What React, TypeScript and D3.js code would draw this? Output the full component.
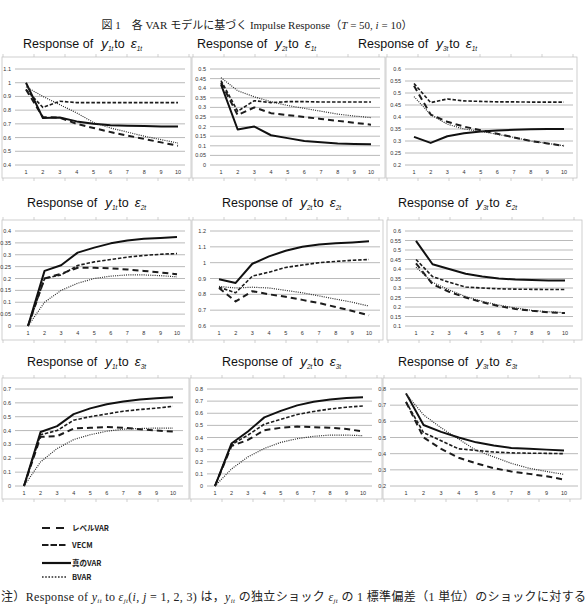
import * as d3 from 'd3';

// horizon (periods after the shock)
const periods = ['1', '2', '3', '4', '5', '6', '7', '8', '9', '10'];

// panels are row-major: rows = shock ε1t..ε3t, columns = response y1t..y3t
const respSubs = ['1t', '2t', '3t'];
const shockSubs = ['1t', '2t', '3t'];

const yMin = [0.4, 0, 0.2, 0, 0.6, 0.1, 0, 0, 0.2];
const yMax = [1.1, 0.5, 0.6, 0.4, 1.2, 0.6, 0.7, 0.8, 0.8];
const yStep = [0.1, 0.05, 0.05, 0.05, 0.1, 0.05, 0.1, 0.1, 0.1];

const levelVAR = [
  [0.95, 0.75, 0.745, 0.7, 0.67, 0.64, 0.615, 0.59, 0.565, 0.54],
  [0.43, 0.26, 0.3, 0.27, 0.26, 0.25, 0.24, 0.23, 0.22, 0.21],
  [0.53, 0.41, 0.38, 0.36, 0.345, 0.33, 0.315, 0.3, 0.29, 0.28],
  [0, 0.2, 0.22, 0.245, 0.245, 0.243, 0.238, 0.232, 0.225, 0.218],
  [0.84, 0.755, 0.82, 0.8, 0.785, 0.765, 0.745, 0.72, 0.695, 0.667],
  [0.43, 0.32, 0.28, 0.25, 0.225, 0.205, 0.19, 0.18, 0.172, 0.168],
  [0, 0.355, 0.36, 0.415, 0.42, 0.425, 0.42, 0.41, 0.4, 0.393],
  [0, 0.33, 0.38, 0.46, 0.48, 0.49, 0.485, 0.48, 0.47, 0.45],
  [0.72, 0.5, 0.43, 0.375, 0.34, 0.31, 0.29, 0.275, 0.26, 0.24],
];

const vecm = [
  [0.95, 0.82, 0.865, 0.855, 0.855, 0.855, 0.855, 0.855, 0.855, 0.855],
  [0.44, 0.28, 0.335, 0.325, 0.33, 0.33, 0.328, 0.328, 0.328, 0.328],
  [0.54, 0.46, 0.475, 0.467, 0.465, 0.463, 0.463, 0.462, 0.462, 0.462],
  [0, 0.2, 0.215, 0.255, 0.27, 0.28, 0.29, 0.297, 0.302, 0.305],
  [0.845, 0.81, 0.915, 0.94, 0.97, 0.985, 1.0, 1.008, 1.015, 1.02],
  [0.45, 0.36, 0.33, 0.305, 0.3, 0.296, 0.294, 0.293, 0.292, 0.292],
  [0, 0.37, 0.4, 0.475, 0.5, 0.52, 0.54, 0.552, 0.562, 0.575],
  [0, 0.34, 0.42, 0.51, 0.55, 0.59, 0.615, 0.635, 0.65, 0.66],
  [0.72, 0.53, 0.48, 0.43, 0.42, 0.41, 0.405, 0.403, 0.402, 0.4],
];

const trueVAR = [
  [1.0, 0.742, 0.747, 0.718, 0.7, 0.69, 0.686, 0.684, 0.68, 0.68],
  [0.42, 0.185, 0.2, 0.155, 0.14, 0.125, 0.118, 0.112, 0.11, 0.108],
  [0.317, 0.292, 0.32, 0.332, 0.34, 0.344, 0.347, 0.349, 0.35, 0.35],
  [0, 0.232, 0.256, 0.309, 0.33, 0.348, 0.36, 0.367, 0.371, 0.375],
  [0.895, 0.872, 0.993, 1.04, 1.075, 1.1, 1.115, 1.123, 1.128, 1.135],
  [0.548, 0.425, 0.4, 0.375, 0.36, 0.35, 0.345, 0.342, 0.34, 0.339],
  [0, 0.39, 0.432, 0.519, 0.56, 0.59, 0.61, 0.625, 0.633, 0.64],
  [0, 0.35, 0.45, 0.566, 0.62, 0.665, 0.695, 0.713, 0.725, 0.731],
  [0.773, 0.577, 0.535, 0.5, 0.47, 0.45, 0.435, 0.43, 0.425, 0.42],
];

const bvar = [
  [0.97, 0.9, 0.84, 0.78, 0.71, 0.67, 0.64, 0.61, 0.585, 0.56],
  [0.455, 0.387, 0.355, 0.33, 0.31, 0.295, 0.28, 0.265, 0.255, 0.247],
  [0.485, 0.41, 0.37, 0.35, 0.34, 0.328, 0.315, 0.3, 0.29, 0.28],
  [0, 0.1, 0.15, 0.18, 0.2, 0.21, 0.215, 0.215, 0.212, 0.207],
  [0.85, 0.84, 0.845, 0.84, 0.825, 0.81, 0.79, 0.77, 0.75, 0.726],
  [0.41, 0.33, 0.29, 0.255, 0.23, 0.21, 0.195, 0.182, 0.175, 0.17],
  [0, 0.174, 0.27, 0.335, 0.37, 0.395, 0.41, 0.415, 0.418, 0.418],
  [0, 0.14, 0.24, 0.31, 0.36, 0.39, 0.41, 0.42, 0.42, 0.415],
  [0.77, 0.64, 0.56, 0.49, 0.42, 0.38, 0.34, 0.31, 0.29, 0.272],
];

const seriesNames = ['レベルVAR', 'VECM', '真のVAR', 'BVAR'];
const seriesData = [levelVAR, vecm, trueVAR, bvar];

const lineStyles = [
  { width: 2, dash: '6 4', color: '#1c1c1c' },
  { width: 1.6, dash: '3.5 1.8', color: '#1c1c1c' },
  { width: 2, dash: undefined, color: '#111' },
  { width: 1.2, dash: '1 1.2', color: '#2a2a2a' },
];

// layout for the 3x3 grid of panels
const rowGridY = [[69, 165], [231, 326], [389, 486]];
const rowBoxY = [[57, 178], [220, 340], [378, 499]];
const rowTitleY = [48, 207, 366];
const titleX = [[23, 197, 358], [27, 222, 398], [27, 222, 398]];
const gridX = [
  [[15, 185], [210, 380], [405, 573]],
  [[15, 185], [210, 380], [405, 573]],
  [[15, 183], [207, 372], [390, 578]],
];
const catX = [
  [[26, 178], [221, 371], [414, 564]],
  [[28, 177], [219, 369], [416, 565]],
  [[24, 173], [215, 363], [406, 564]],
];
const boxX = [
  [[2, 191], [192, 385], [386, 577]],
  [[2, 191], [192, 383], [387, 582]],
  [[2, 189], [190, 382], [383, 581]],
];

const fmt = d3.format('.2~f');
const sans = '"Liberation Sans", Arial, sans-serif';
const serif = '"Liberation Serif", "Times New Roman", "Noto Sans CJK JP", serif';

function Title({ x, y, resp, shock }: { x: number; y: number; resp: string; shock: string }) {
  return (
    <text x={x} y={y} fontFamily={sans} fontSize={12.5} fill="#111">
      <tspan>Response of</tspan>
      <tspan dx={8} fontStyle="italic" fontSize={13.5}>y</tspan>
      <tspan dy={2.5} fontStyle="italic" fontSize={6.5}>{resp}</tspan>
      <tspan dy={-2.5} dx={1}>to</tspan>
      <tspan dx={6} fontStyle="italic" fontSize={13.5}>ε</tspan>
      <tspan dy={2.5} fontStyle="italic" fontSize={6.5}>{shock}</tspan>
    </text>
  );
}

function Panel({ idx }: { idx: number }) {
  const r = Math.floor(idx / 3);
  const c = idx % 3;
  const [gx0, gx1] = gridX[r][c];
  const [bx0, bx1] = boxX[r][c];
  const [by0, by1] = rowBoxY[r];
  const [gyTop, gyBottom] = rowGridY[r];

  const x = d3.scalePoint<string>().domain(periods).range(catX[r][c]);
  const y = d3.scaleLinear().domain([yMin[idx], yMax[idx]]).range([gyBottom, gyTop]);
  const ticks = d3.range(yMin[idx], yMax[idx] + yStep[idx] / 2, yStep[idx]);
  const line = d3
    .line<number>()
    .x((_, i) => x(periods[i]) as number)
    .y((d) => y(d));

  // small frame marks along the box edges
  const edgeTicks = d3.range(bx0 + 1, bx1, 31);

  return (
    <g>
      <rect x={bx0} y={by0} width={bx1 - bx0} height={by1 - by0} fill="#fff" stroke="#c4c4c4" strokeWidth={0.8} />
      {edgeTicks.map((t) => (
        <g key={t} stroke="#bdbdbd" strokeWidth={0.7}>
          <line x1={t} x2={t} y1={by1} y2={by1 + 3} />
          <line x1={t} x2={t} y1={by0 - 3} y2={by0} />
        </g>
      ))}
      {ticks.map((t) => (
        <g key={t}>
          <line x1={gx0} x2={gx1} y1={y(t)} y2={y(t)} stroke="#a8a8a8" strokeWidth={0.8} />
          <text x={gx0 - 4} y={y(t) + 2} textAnchor="end" fontFamily={sans} fontSize={5.5} fill="#333">
            {fmt(t)}
          </text>
        </g>
      ))}
      {periods.map((p) => (
        <text key={p} x={x(p)} y={gyBottom + 9} textAnchor="middle" fontFamily={sans} fontSize={5.5} fill="#333">
          {p}
        </text>
      ))}
      {seriesData.map((s, k) => (
        <path
          key={k}
          d={line(s[idx]) ?? ''}
          fill="none"
          stroke={lineStyles[k].color}
          strokeWidth={lineStyles[k].width}
          strokeDasharray={lineStyles[k].dash}
          strokeLinejoin="round"
        />
      ))}
      <Title x={titleX[r][c]} y={rowTitleY[r]} resp={respSubs[c]} shock={shockSubs[r]} />
    </g>
  );
}

const legendY = [528, 545, 563, 577];

export default function App() {
  return (
    <svg width={588} height={606} style={{ position: 'absolute', left: 0, top: 0 }}>
      <rect width={588} height={606} fill="#fff" />
      <text x={257} y={29} textAnchor="middle" fontFamily={serif} fontSize={11} fill="#222">
        <tspan>図 1　各 VAR モデルに基づく Impulse Response（</tspan>
        <tspan fontStyle="italic">T</tspan>
        <tspan> = 50, </tspan>
        <tspan fontStyle="italic">i</tspan>
        <tspan> = 10）</tspan>
      </text>
      {d3.range(9).map((i) => (
        <Panel key={i} idx={i} />
      ))}
      {seriesNames.map((name, k) => (
        <g key={name}>
          <line
            x1={42}
            x2={k === 2 ? 71 : 67}
            y1={legendY[k]}
            y2={legendY[k]}
            stroke={lineStyles[k].color}
            strokeWidth={k === 3 ? 1.6 : 2.2}
            strokeDasharray={k === 0 ? '8 6' : k === 1 ? '6.5 2' : k === 3 ? '1.6 1.6' : undefined}
          />
          <text x={72} y={legendY[k] + 2.6} fontFamily={'"Noto Sans CJK JP", sans-serif'} fontWeight="bold" fontSize={7.5} fill="#222">
            {name}
          </text>
        </g>
      ))}
      <text x={1} y={601} fontFamily={serif} fontSize={12} fill="#222" textLength={585} lengthAdjust="spacing">
        <tspan>注）Response of </tspan>
        <tspan fontStyle="italic">y</tspan>
        <tspan fontStyle="italic" fontSize={7} dy={2}>it</tspan>
        <tspan dy={-2}> to </tspan>
        <tspan fontStyle="italic">ε</tspan>
        <tspan fontStyle="italic" fontSize={7} dy={2}>jt</tspan>
        <tspan dy={-2}>(</tspan>
        <tspan fontStyle="italic">i</tspan>
        <tspan>, </tspan>
        <tspan fontStyle="italic">j</tspan>
        <tspan> = 1, 2, 3) は，</tspan>
        <tspan fontStyle="italic">y</tspan>
        <tspan fontStyle="italic" fontSize={7} dy={2}>it</tspan>
        <tspan dy={-2}> の独立ショック </tspan>
        <tspan fontStyle="italic">ε</tspan>
        <tspan fontStyle="italic" fontSize={7} dy={2}>jt</tspan>
        <tspan dy={-2}> の 1 標準偏差（1 単位）のショックに対する</tspan>
      </text>
    </svg>
  );
}
